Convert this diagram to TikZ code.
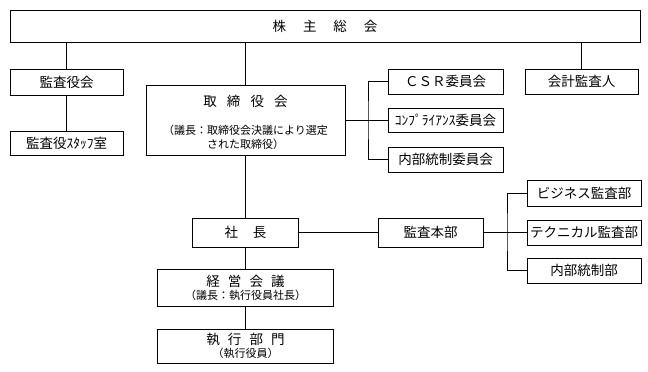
\documentclass[tikz,border=0pt]{standalone}
\usepackage{fontspec}
\setmainfont{Noto Sans CJK JP}
\usepackage{tikz}
\usetikzlibrary{positioning,calc}

\begin{document}
\begin{tikzpicture}[x=1pt, y=-1pt]
\tikzstyle{unit} = [rectangle, draw=black, line width=1pt, inner sep=0pt, text centered, font=\fontsize{13.5}{16}\selectfont]
\tikzstyle{note} = [font=\fontsize{11}{14}\selectfont]
\tikzstyle{link} = [line width=1pt]
\useasboundingbox (0,0) rectangle (648,372);

\node (soukai) [unit, minimum width=630pt, minimum height=32pt] at (325,26) {株\hspace{1.25em}主\hspace{1.25em}総\hspace{1.25em}会};
\node (kansayakukai) [unit, minimum width=113pt, minimum height=26pt] at (66.5,82) {監査役会};
\node (staff) [unit, minimum width=113pt, minimum height=24pt] at (66.5,143) {監査役ｽﾀｯﾌ室};
\node (torishimari) [unit, minimum width=199pt, minimum height=70pt] at (245.5,120) {};
\node (torititle) at (245.5,101) [font=\fontsize{13.5}{16}\selectfont] {取\hspace{0.75em}締\hspace{0.75em}役\hspace{0.75em}会};
\node (torinote) at (245.5,137) [note, align=center] {（議長：取締役会決議により選定\\された取締役）};
\node (csr) [unit, minimum width=115pt, minimum height=25pt] at (445.5,81.5) {ＣＳＲ委員会};
\node (comp) [unit, minimum width=115pt, minimum height=24pt] at (445.5,120) {ｺﾝﾌﾟﾗｲｱﾝｽ委員会};
\node (naibuiin) [unit, minimum width=115pt, minimum height=25pt] at (445.5,159.5) {内部統制委員会};
\node (kaikei) [unit, minimum width=113pt, minimum height=25pt] at (581.5,81.5) {会計監査人};
\node (shacho) [unit, minimum width=106pt, minimum height=29pt] at (245.5,232.5) {社\hspace{1.1em}長};
\node (kansahonbu) [unit, minimum width=105pt, minimum height=29pt] at (430.5,232.5) {監査本部};
\node (business) [unit, minimum width=114pt, minimum height=26pt] at (584,193) {ビジネス監査部};
\node (technical) [unit, minimum width=114pt, minimum height=25pt] at (584,232.5) {テクニカル監査部};
\node (naibutosei) [unit, minimum width=114pt, minimum height=25pt] at (584,270.5) {内部統制部};
\node (keiei) [unit, minimum width=176pt, minimum height=37pt, align=center] at (245.5,287.5) {経\hspace{0.6em}営\hspace{0.6em}会\hspace{0.6em}議\\[-3pt]{\fontsize{11}{13}\selectfont （議長：執行役員社長）}};
\node (shikko) [unit, minimum width=176pt, minimum height=34pt, align=center] at (245.5,346) {執\hspace{0.6em}行\hspace{0.6em}部\hspace{0.6em}門\\[-3pt]{\fontsize{11}{13}\selectfont （執行役員）}};

\coordinate (cbranch) at (368,120);
\coordinate (abranch) at (507,232.5);

% shareholders
\draw [link] (soukai.south -| kansayakukai) -- (kansayakukai.north);
\draw [link] (soukai.south -| torishimari) -- (torishimari.north);
\draw [link] (soukai.south -| kaikei) -- (kaikei.north);
\draw [link] (kansayakukai) -- (staff);

% committees
\draw [link] (torishimari) -- (comp);
\draw [link] (csr.west) -| (cbranch) |- (naibuiin.west);

% executive line
\draw [link] (torishimari) -- (shacho);
\draw [link] (shacho) -- (keiei);
\draw [link] (keiei) -- (shikko);

% audit
\draw [link] (shacho) -- (kansahonbu);
\draw [link] (kansahonbu) -- (technical);
\draw [link] (business.west) -| (abranch) |- (naibutosei.west);
\end{tikzpicture}
\end{document}
